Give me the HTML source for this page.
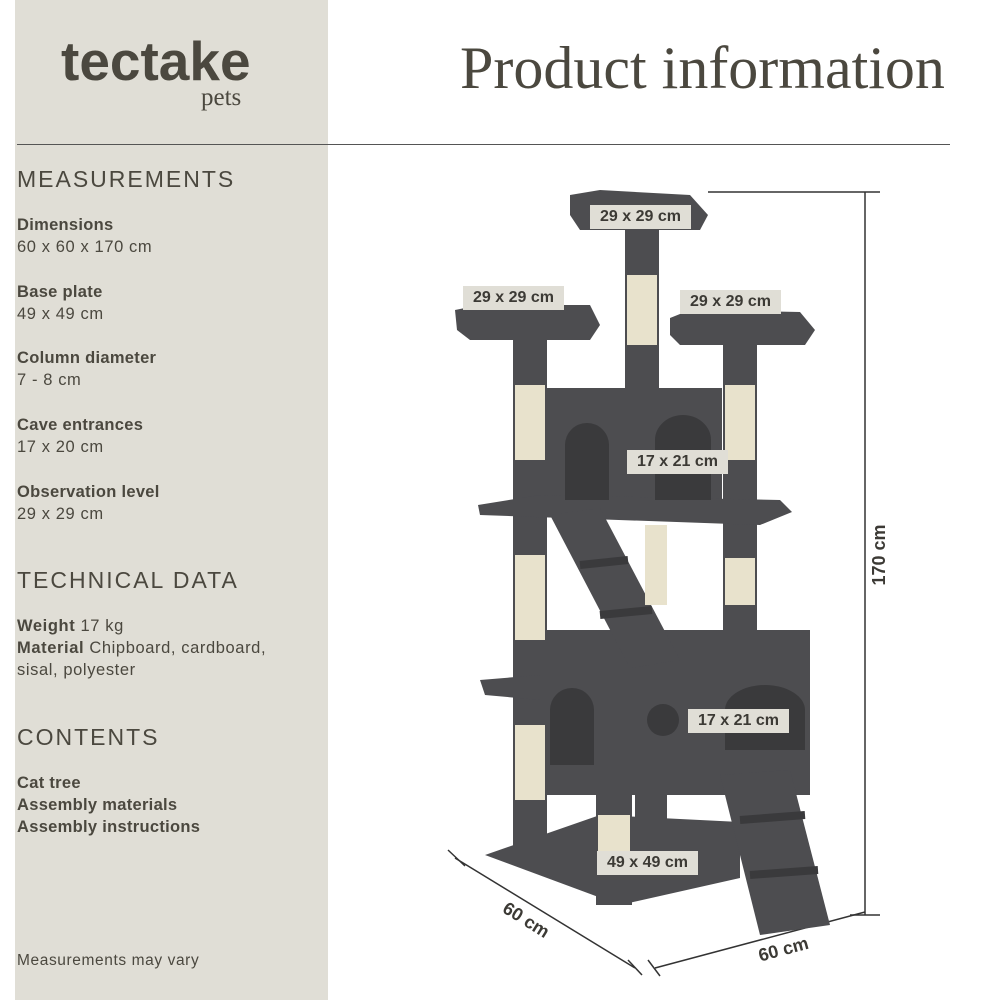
<!DOCTYPE html>
<html><head><style>
body{margin:0;width:1000px;height:1000px;background:#fff;position:relative;overflow:hidden;font-family:"Liberation Sans",sans-serif;color:#4b483f}
.panel{position:absolute;left:15px;top:0;width:313px;height:1000px;background:#e0ded6}
.t{position:absolute;left:17px;white-space:nowrap}
.h{font-size:23px;letter-spacing:2px}
.b{font-weight:bold;font-size:16.5px;letter-spacing:0.3px}
.n{font-size:16.5px;letter-spacing:0.6px}
.lbl{position:absolute;background:#e0ded6;color:#3c3a35;font-size:16px;font-weight:bold;padding:3px 10px;white-space:nowrap}
</style></head><body>
<div class="panel"></div>
<div style="position:absolute;left:61px;top:29px;font-size:55px;font-weight:bold;">tectake</div>
<div style="position:absolute;left:201px;top:84px;font-size:25px;font-family:'Liberation Serif',serif">pets</div>
<div style="position:absolute;left:460px;top:34px;font-size:60px;font-family:'Liberation Serif',serif;color:#4b483f">Product information</div>
<div style="position:absolute;left:17px;top:144px;width:933px;height:1px;background:#555"></div>
<div class="t h" style="top:166px">MEASUREMENTS</div>
<div class="t b" style="top:216px">Dimensions</div><div class="t n" style="top:238px">60 x 60 x 170 cm</div>
<div class="t b" style="top:283px">Base plate</div><div class="t n" style="top:305px">49 x 49 cm</div>
<div class="t b" style="top:349px">Column diameter</div><div class="t n" style="top:371px">7 - 8 cm</div>
<div class="t b" style="top:416px">Cave entrances</div><div class="t n" style="top:438px">17 x 20 cm</div>
<div class="t b" style="top:483px">Observation level</div><div class="t n" style="top:505px">29 x 29 cm</div>
<div class="t h" style="top:567px">TECHNICAL DATA</div>
<div class="t n" style="top:617px"><b>Weight</b> 17 kg</div>
<div class="t n" style="top:639px"><b>Material</b> Chipboard, cardboard,</div>
<div class="t n" style="top:661px">sisal, polyester</div>
<div class="t h" style="top:724px">CONTENTS</div>
<div class="t b" style="top:774px">Cat tree</div>
<div class="t b" style="top:796px">Assembly materials</div>
<div class="t b" style="top:818px">Assembly instructions</div>
<div class="t n" style="top:952px;font-size:15.5px">Measurements may vary</div>

<svg style="position:absolute;left:0;top:0" width="1000" height="1000">
<g stroke="#333" stroke-width="1.5" fill="none">
<line x1="708" y1="192" x2="880" y2="192"/><line x1="865" y1="192" x2="865" y2="915"/><line x1="850" y1="915" x2="880" y2="915"/>
<line x1="455" y1="858" x2="635" y2="968"/><line x1="448" y1="850" x2="465" y2="866"/><line x1="628" y1="960" x2="642" y2="975"/>
<line x1="655" y1="968" x2="865" y2="912"/><line x1="648" y1="960" x2="660" y2="976"/>
</g>
<g fill="#4d4d50">
<polygon points="485,855 600,815 740,822 740,878 620,905"/>
<rect x="513" y="340" width="34" height="520"/>
<rect x="723" y="345" width="34" height="295"/>
<rect x="625" y="230" width="34" height="165"/>
<rect x="596" y="790" width="36" height="115"/>
<rect x="635" y="790" width="32" height="40"/>
<polygon points="570,195 600,190 690,195 708,215 700,230 580,230 570,215"/>
<polygon points="455,310 480,305 590,305 600,325 590,340 470,340 457,330"/>
<polygon points="670,318 690,310 800,312 815,330 805,345 680,345 670,335"/>
<rect x="545" y="388" width="177" height="117"/>
<polygon points="478,505 540,495 780,500 792,512 760,525 480,515"/>
<rect x="540" y="630" width="270" height="165"/>
<polygon points="480,680 540,675 540,700 485,695"/>
<polygon points="550,515 600,508 680,660 630,668"/>
<polygon points="720,775 790,770 830,925 760,935"/>
</g>
<g fill="#e8e2cc">
<rect x="627" y="275" width="30" height="70"/>
<rect x="515" y="385" width="30" height="75"/>
<rect x="515" y="555" width="30" height="85"/>
<rect x="515" y="725" width="30" height="75"/>
<rect x="725" y="385" width="30" height="75"/>
<rect x="725" y="558" width="30" height="47"/>
<rect x="598" y="815" width="32" height="50"/>
<rect x="645" y="525" width="22" height="80"/>
</g>
<g fill="#3a3a3c">
<path d="M565,500 v-55 a22,22 0 0 1 44,0 v55z"/>
<path d="M655,500 v-60 a28,25 0 0 1 56,0 v60z"/>
<path d="M550,765 v-55 a22,22 0 0 1 44,0 v55z"/>
<path d="M725,750 v-40 a40,25 0 0 1 80,0 v40z"/>
<circle cx="663" cy="720" r="16"/>
</g>
<g stroke="#3a3a3c" stroke-width="8">
<line x1="580" y1="565" x2="628" y2="560"/><line x1="600" y1="615" x2="652" y2="610"/>
<line x1="740" y1="820" x2="805" y2="815"/><line x1="750" y1="875" x2="818" y2="870"/>
</g>
<text x="885" y="555" transform="rotate(-90 885 555)" font-size="18" font-weight="bold" fill="#3c3a35" text-anchor="middle" font-family="Liberation Sans">170 cm</text>
<text x="523" y="925" transform="rotate(32 523 925)" font-size="18" font-weight="bold" fill="#3c3a35" text-anchor="middle" font-family="Liberation Sans">60 cm</text>
<text x="785" y="955" transform="rotate(-15 785 955)" font-size="18" font-weight="bold" fill="#3c3a35" text-anchor="middle" font-family="Liberation Sans">60 cm</text>
</svg>
<div class="lbl" style="left:590px;top:205px">29 x 29 cm</div>
<div class="lbl" style="left:463px;top:286px">29 x 29 cm</div>
<div class="lbl" style="left:680px;top:290px">29 x 29 cm</div>
<div class="lbl" style="left:627px;top:450px">17 x 21 cm</div>
<div class="lbl" style="left:688px;top:709px">17 x 21 cm</div>
<div class="lbl" style="left:597px;top:851px">49 x 49 cm</div>
</body></html>
